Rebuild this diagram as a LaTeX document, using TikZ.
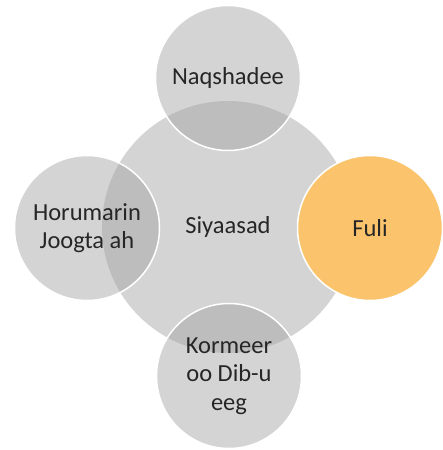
\documentclass[tikz,border=0pt]{standalone}
\usepackage{fontspec}
\setmainfont{Carlito}
\definecolor{centgray}{RGB}{212,212,212}
\definecolor{outgray}{RGB}{167,167,167}
\definecolor{fuliorange}{RGB}{251,196,108}
\definecolor{txt}{RGB}{38,38,38}
\begin{document}
\begin{tikzpicture}[x=1pt,y=1pt,
  bub/.style={circle,draw=white,line width=1.5pt,inner sep=0pt,align=center,
    text=txt,font=\fontsize{24.5}{28.5}\selectfont},
  center bub/.style={bub,fill=centgray,draw=none,minimum size=252pt},
  gray bub/.style={bub,fill=outgray,fill opacity=0.49,text opacity=1,minimum size=145pt},
  orange bub/.style={bub,fill=fuliorange,minimum size=145pt}]
\useasboundingbox (0,0) rectangle (443,-450);
\node[center bub] (siy) at (228,-227) {Siyaasad};
\node[gray bub] (naq) at (228,-78) {Naqshadee};
\node[gray bub] (hor) at (87,-228) {Horumarin\\Joogta ah};
\node[gray bub] (kor) at (229,-376) {Kormeer\\oo Dib-u\\eeg};
\node[orange bub] (ful) at (370,-228) {Fuli};
\end{tikzpicture}
\end{document}
